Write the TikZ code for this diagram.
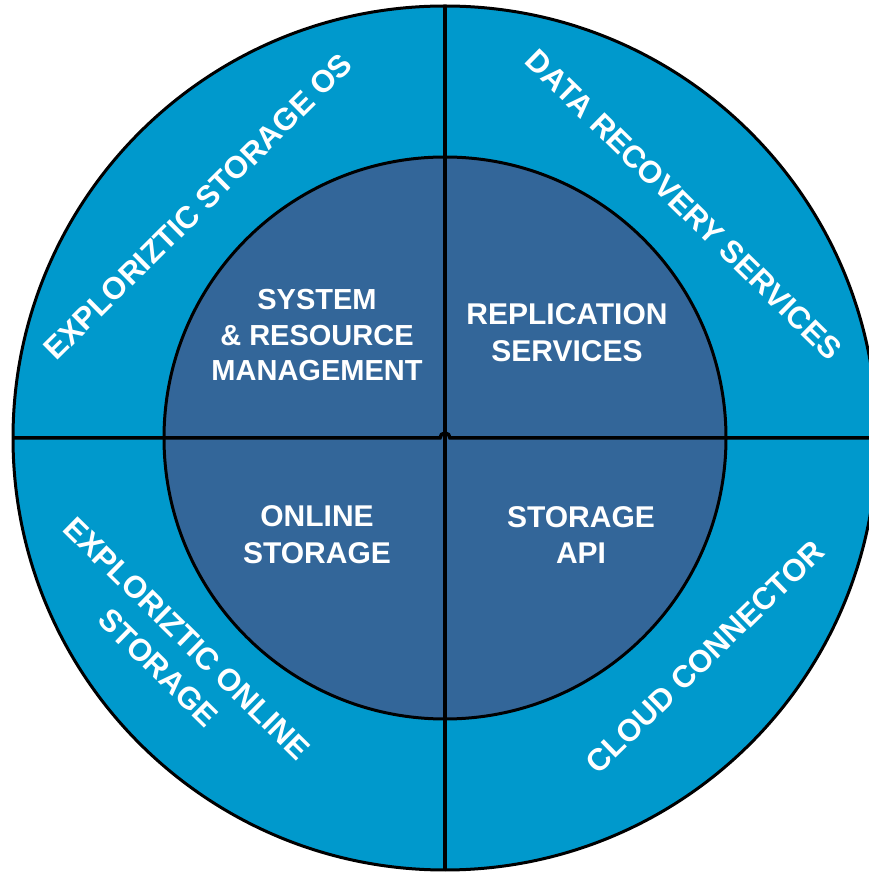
\documentclass[tikz,border=0pt]{standalone}
\usepackage{fontspec}
\setmainfont{Liberation Sans}
\definecolor{ringblue}{RGB}{0,153,204}
\definecolor{coreblue}{RGB}{51,102,153}
\tikzset{
  ringtext/.style={text=white, font=\fontsize{31}{41}\selectfont\bfseries, inner sep=0, align=center},
  coretext/.style={text=white, font=\fontsize{30}{37}\selectfont\bfseries, inner sep=0, align=center}
}
\begin{document}
\begin{tikzpicture}[x=1pt, y=1pt]
\useasboundingbox (0,0) rectangle (869,873);
\clip (0,0) rectangle (869,873);
\node[circle, draw, line width=3pt, fill=ringblue, minimum size=864pt, inner sep=0, outer sep=0] (outer) at (445,435){};
\node[circle, draw, line width=3pt, fill=coreblue, minimum size=562pt, inner sep=0, outer sep=0] (core) at (445,435){};
\draw[line width=3.5pt](outer.north) -- (outer.south);
\draw[line width=3.5pt](outer.west) -- ([xshift=-5pt]outer.center) arc[start angle=180, end angle=0, radius=5] -- (outer.east);
\node[coretext, font=\fontsize{29}{35.5}\selectfont\bfseries] (sysres) at (317,537.5){SYSTEM\\\& RESOURCE\\MANAGEMENT};
\node[coretext] (repl) at (567,540.5){REPLICATION\\SERVICES};
\node[coretext] (online) at (317,338){ONLINE\\STORAGE};
\node[coretext, font=\fontsize{30}{36}\selectfont\bfseries] (api) at (581,338){STORAGE\\API};
\node[ringtext, rotate=44.7] (osring) at (198,666.5){EXPLORIZTIC STORAGE OS};
\node[ringtext, rotate=-44.4] (drsring) at (684,668){DATA RECOVERY SERVICES};
\node[ringtext, rotate=-44.5] (eosring) at (172.5,220){EXPLORIZTIC ONLINE\\STORAGE};
\node[ringtext, rotate=44.2] (ccring) at (705,216){CLOUD CONNECTOR};
\end{tikzpicture}
\end{document}
